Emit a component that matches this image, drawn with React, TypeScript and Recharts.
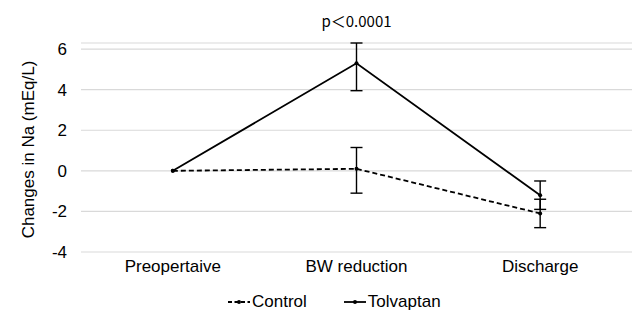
import React from 'react';
import { LineChart, Line, XAxis, YAxis, CartesianGrid, ErrorBar, Legend, ReferenceDot } from 'recharts';

const categories = ['Preopertaive', 'BW reduction', 'Discharge'];
const controlValues = [0, 0.1, -2.1];
const controlErrLow = [null, 1.2, 0.7];
const controlErrHigh = [null, 1.05, 0.7];
const tolvaptanValues = [0, 5.3, -1.2];
const tolvaptanErrLow = [null, 1.35, 0.7];
const tolvaptanErrHigh = [null, 1.0, 0.7];
const yTicks = [-4, -2, 0, 2, 4, 6];
const annotationText = 'p＜0.0001';
const annotationCategory = 'BW reduction';
const annotationValue = 6.3;

const data = categories.map((c, i) => ({
  name: c,
  control: controlValues[i],
  controlErr: controlErrLow[i] == null ? null : [controlErrLow[i], controlErrHigh[i]],
  tolvaptan: tolvaptanValues[i],
  tolvaptanErr: tolvaptanErrLow[i] == null ? null : [tolvaptanErrLow[i], tolvaptanErrHigh[i]],
}));

const FONT = '"Liberation Sans", Arial, sans-serif';

const renderLegend = () => (
  <div style={{ boxSizing: 'border-box', display: 'flex', justifyContent: 'flex-start', alignItems: 'center', height: 26, paddingTop: 6, paddingLeft: 228, gap: 37, fontFamily: FONT, fontSize: 17, color: '#000', lineHeight: '20px' }}>
    {[
      { label: 'Control', dash: '4 2.5' },
      { label: 'Tolvaptan', dash: undefined },
    ].map((it) => (
      <div key={it.label} style={{ display: 'flex', alignItems: 'center' }}>
        <svg width={22} height={10} style={{ marginRight: 2 }}>
          <line x1={0} y1={5} x2={22} y2={5} stroke="#000" strokeWidth={1.8} strokeDasharray={it.dash} />
          <circle cx={11} cy={5} r={2} fill="#000" />
        </svg>
        <span>{it.label}</span>
      </div>
    ))}
  </div>
);

export default function App() {
  return (
    <div style={{ position: 'absolute', left: 0, top: 0, background: '#fff' }}>
      <LineChart width={633} height={312} data={data} margin={{ top: 43, right: 1, bottom: 0, left: 0 }}>
        <CartesianGrid vertical={false} stroke="#d9d9d9" strokeWidth={1.2} />
        <XAxis
          dataKey="name"
          scale="band"
          axisLine={false}
          tickLine={false}
          tick={{ fill: '#000', fontSize: 17, fontFamily: FONT }}
          tickMargin={2}
          height={34}
        />
        <YAxis
          domain={[-4, 6]}
          ticks={yTicks}
          axisLine={false}
          tickLine={false}
          width={81}
          tickMargin={8}
          tick={{ fill: '#000', fontSize: 17, fontFamily: FONT }}
          label={{ value: 'Changes in Na (mEq/L)', angle: -90, position: 'center', dx: -13, dy: 2, style: { fill: '#000', fontSize: 17, fontFamily: FONT } }}
        />
        <Legend verticalAlign="bottom" height={26} content={renderLegend} />
        <Line
          dataKey="control"
          stroke="#000"
          strokeWidth={1.8}
          strokeDasharray="5 3"
          dot={{ r: 2, fill: '#000', stroke: '#000', strokeWidth: 0 }}
          isAnimationActive={false}
        >
          <ErrorBar dataKey="controlErr" width={6} stroke="#000" strokeWidth={1.4} direction="y" />
        </Line>
        <Line
          dataKey="tolvaptan"
          stroke="#000"
          strokeWidth={1.8}
          dot={{ r: 2, fill: '#000', stroke: '#000', strokeWidth: 0 }}
          isAnimationActive={false}
        >
          <ErrorBar dataKey="tolvaptanErr" width={6} stroke="#000" strokeWidth={1.4} direction="y" />
        </Line>
        <ReferenceDot
          x={annotationCategory}
          y={annotationValue}
          r={0}
          fill="none"
          stroke="none"
          label={{ value: annotationText, position: 'top', offset: 16, style: { fill: '#000', fontSize: 15, fontFamily: '"Noto Sans CJK JP", sans-serif' } }}
        />
      </LineChart>
    </div>
  );
}
